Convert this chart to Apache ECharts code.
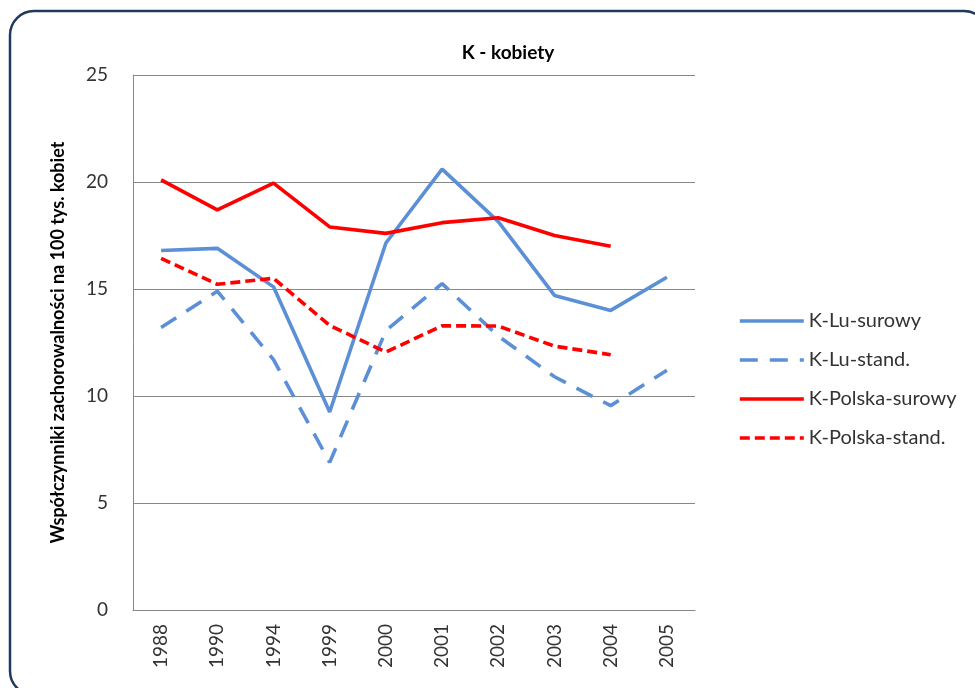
<!DOCTYPE html>
<html>
<head>
<meta charset="utf-8">
<script src="https://cdn.jsdelivr.net/npm/echarts@6/dist/echarts.min.js"></script>
<style>
  html, body { margin: 0; padding: 0; background: #fff; }
  #chart { width: 975px; height: 688px; }
</style>
</head>
<body>
<div id="chart"></div>
<script>
const years = ['1988', '1990', '1994', '1999', '2000', '2001', '2002', '2003', '2004', '2005']
const luSurowy = [16.8, 16.9, 15.1, 9.25, 17.15, 20.6, 18.15, 14.7, 14.0, 15.55]
const luStand = [13.2, 14.9, 11.7, 6.9, 13.05, 15.25, 12.8, 10.9, 9.55, 11.2]
const polskaSurowy = [20.1, 18.7, 19.95, 17.9, 17.6, 18.1, 18.33, 17.5, 17.0, null]
const polskaStand = [16.43, 15.22, 15.5, 13.3, 12.05, 13.28, 13.27, 12.33, 11.93, null]
const yTicks = [0, 5, 10, 15, 20, 25]

const blue = '#5B8FD6'
const red = '#FF0000'
const font = 'Lato, "Liberation Sans", sans-serif'

const chart = echarts.init(document.getElementById('chart'))

function line(name, data, color, dash) {
  return {
    name: name,
    type: 'line',
    data: data,
    symbol: 'none',
    showSymbol: false,
    lineStyle: { color: color, width: 3.6, type: dash },
    itemStyle: { color: color },
    emphasis: { disabled: true }
  }
}

chart.setOption({
  animation: false,
  backgroundColor: '#fff',
  graphic: [{
    type: 'rect',
    shape: { x: 10, y: 11, width: 978, height: 684, r: 24 },
    style: { fill: 'none', stroke: '#1F3A5C', lineWidth: 2.5 },
    silent: true
  }],
  title: {
    text: 'K - kobiety',
    left: 503,
    top: 38,
    textAlign: 'center',
    textStyle: { fontFamily: font, fontSize: 19, fontWeight: 'bold', color: '#000' }
  },
  legend: {
    orient: 'vertical',
    left: 733,
    top: 306,
    itemWidth: 64,
    itemHeight: 18,
    itemGap: 19,
    itemStyle: { opacity: 0 },
    lineStyle: { width: 3.6 },
    textStyle: { fontFamily: font, fontSize: 20, color: '#333' },
    data: ['K-Lu-surowy', 'K-Lu-stand.', 'K-Polska-surowy', 'K-Polska-stand.']
  },
  grid: { left: 133, right: 280, top: 75, bottom: 78, containLabel: false },
  xAxis: {
    type: 'category',
    data: years,
    boundaryGap: true,
    axisLine: { lineStyle: { color: '#888', width: 1 } },
    axisTick: { show: false },
    axisLabel: {
      rotate: 90,
      margin: 14,
      fontFamily: font,
      fontSize: 19,
      color: '#333'
    }
  },
  yAxis: {
    type: 'value',
    min: yTicks[0],
    max: yTicks[yTicks.length - 1],
    interval: 5,
    name: 'Współczynniki zachorowalności na 100 tys. kobiet',
    nameLocation: 'middle',
    nameRotate: 90,
    nameGap: 66,
    nameTextStyle: { fontFamily: font, fontSize: 18, fontWeight: 'bold', color: '#000' },
    axisLine: { show: true, lineStyle: { color: '#888', width: 1 } },
    axisTick: { show: false },
    splitLine: { lineStyle: { color: '#888', width: 1 } },
    axisLabel: { margin: 25, fontFamily: font, fontSize: 19, color: '#333' }
  },
  series: [
    line('K-Lu-surowy', luSurowy, blue, 'solid'),
    line('K-Lu-stand.', luStand, blue, [18, 12]),
    line('K-Polska-surowy', polskaSurowy, red, 'solid'),
    line('K-Polska-stand.', polskaStand, red, [10, 5])
  ]
})
</script>
</body>
</html>
